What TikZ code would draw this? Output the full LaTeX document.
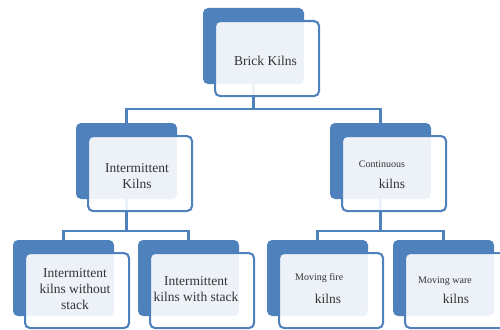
\documentclass[tikz,border=0pt]{standalone}
\usepackage{fontspec}
\setmainfont{Liberation Serif}
\usetikzlibrary{backgrounds}
\definecolor{kilnblue}{HTML}{4F81BD}
\tikzset{kiln/.pic={
        code={
            \node[backbox] (-back) at (0,0) {};
            \node[frontbox] (-front) at (11,12) {};
    }
  }
}

\begin{document}
\begin{tikzpicture}[x=1pt,y=-1pt,
    backbox/.style={fill=kilnblue,rounded corners=5pt,anchor=north west,minimum width=101pt,minimum height=76pt,inner sep=0,outer sep=0},
    frontbox/.style={draw=kilnblue,line width=2.1pt,fill=white,fill opacity=0.9,rounded corners=5pt,anchor=north west,minimum width=104pt,minimum height=75pt,inner sep=0},
    link/.style={draw=kilnblue,line width=2.4pt},
    big/.style={font=\fontsize{13.5}{16}\selectfont,text=black!80,inner sep=0,align=center},
    small/.style={font=\fontsize{10}{12}\selectfont,text=black!80,inner sep=0}]
\useasboundingbox (0,0) rectangle (500,329);
% Brick kilns
\path (203,8) pic (brick) {kiln};
%% Intermittent / continuous
\path (76,123) pic (inter) {kiln};
\path (330,123) pic (cont) {kiln};
% Bottom row
\path (13,240) pic (nostack) {kiln};
\path (138,240) pic (stack) {kiln};
\path (267,240) pic (fire) {kiln};
\path (393,240) pic (ware) {kiln};
% Lines
\begin{scope}[on background layer]
\draw[link] (brick-back.south) -- ++(0,25) coordinate (split1) -| (inter-back.north);
\draw[link] (split1) -| (cont-back.north);
\draw[link] (inter-back.south) -- ++(0,32) coordinate (split2) -| (nostack-back.north);
\draw[link] (split2) -| (stack-back.north);
\draw[link] (cont-back.south) -- ++(0,32) coordinate (split3) -| (fire-back.north);
\draw[link] (split3) -| (ware-back.north);
\end{scope}
% Texts
\node[big] (brickT) at (265.5,60.5) {Brick Kilns};
\node[big] (interT) at (137,176.5) {Intermittent\\Kilns};
\node[small,anchor=base] (contT1) at (382,167) {Continuous};
\node[big,anchor=base] (contT2) at (392,188) {kilns};
\node[big] (nostackT) at (75,289.5) {Intermittent\\kilns without\\stack};
\node[big] (stackT) at (196,289) {Intermittent\\kilns with stack};
\node[small,anchor=base west] (fireT1) at (295,280) {Moving fire};
\node[big,anchor=base] (fireT2) at (328,303) {kilns};
\node[small,anchor=base west] (wareT1) at (418,283) {Moving ware};
\node[big,anchor=base] (wareT2) at (456,303) {kilns};
\end{tikzpicture}
\end{document}
